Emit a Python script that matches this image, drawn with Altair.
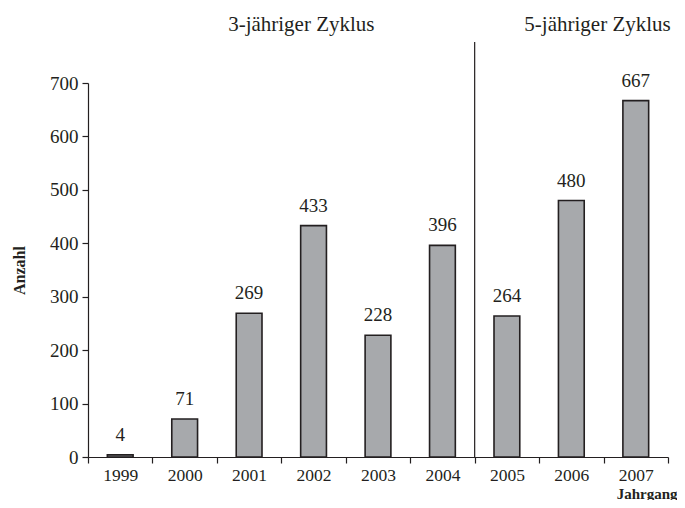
import altair as alt
import pandas as pd

years = ["1999", "2000", "2001", "2002", "2003", "2004", "2005", "2006", "2007"]
counts = [4, 71, 269, 433, 228, 396, 264, 480, 667]
cycle_labels = ["3-jähriger Zyklus", "5-jähriger Zyklus"]
cycle_anchor = ["2002", "2007"]
divider_year = "2005"

FONT = "Liberation Serif, Times New Roman, DejaVu Serif, serif"
INK = "#231f20"

df = pd.DataFrame({"Jahrgang": years, "Anzahl": counts})

xscale = alt.Scale(domain=years, paddingInner=0, paddingOuter=0)
yscale = alt.Scale(domain=[0, 700])

bars = alt.Chart(df).mark_bar(
    fill="#a7a9ac", stroke=INK, strokeWidth=1.6, width={"band": 0.4}
).encode(
    x=alt.X("Jahrgang:N", scale=xscale, sort=years,
            axis=alt.Axis(title="Jahrgang", labelAngle=0, tickBand="extent",
                          tickSize=6, labelPadding=3, labelFontSize=17.5,
                          titleFontWeight="bold", titleFontSize=15,
                          titleAnchor="end", titleAlign="right",
                          titleX=589, titleY=41, titleBaseline="alphabetic")),
    y=alt.Y("Anzahl:Q", scale=yscale,
            axis=alt.Axis(values=[0, 100, 200, 300, 400, 500, 600, 700],
                          grid=False, tickSize=6, labelPadding=4, labelFontSize=19,
                          title="Anzahl", titleFontWeight="bold", titleFontSize=16,
                          titlePadding=22)),
)

labels = alt.Chart(df).mark_text(
    baseline="bottom", dy=-10, fontSize=19, font=FONT, color=INK
).encode(
    x=alt.X("Jahrgang:N", scale=xscale, sort=years),
    y=alt.Y("Anzahl:Q", scale=yscale),
    text="Anzahl:Q",
)

divider = alt.Chart(pd.DataFrame({"d": [divider_year]})).mark_rule(
    color=INK, strokeWidth=1.2
).encode(
    x=alt.X("d:N", scale=xscale, bandPosition=0),
    y=alt.datum(0),
    y2=alt.value(-41),
)

cyc1 = alt.Chart(pd.DataFrame({"label": [cycle_labels[0]], "anchor": [cycle_anchor[0]]})).mark_text(
    fontSize=21, font=FONT, color=INK, baseline="middle", dx=20
).encode(
    x=alt.X("anchor:N", scale=xscale, bandPosition=0),
    y=alt.value(-58),
    text="label:N",
)
cyc2 = alt.Chart(pd.DataFrame({"label": [cycle_labels[1]], "anchor": [cycle_anchor[1]]})).mark_text(
    fontSize=21, font=FONT, color=INK, baseline="middle", dx=-6
).encode(
    x=alt.X("anchor:N", scale=xscale, bandPosition=0),
    y=alt.value(-58),
    text="label:N",
)

chart = alt.layer(bars, labels, divider, cyc1, cyc2).properties(
    width=580, height=374,
    padding={"left": 80, "top": 75, "right": 9, "bottom": 43},
    autosize=alt.AutoSizeParams(type="none"),
).configure_view(stroke=None).configure_axis(
    labelFont=FONT, titleFont=FONT, labelColor=INK, titleColor=INK,
    domainColor=INK, tickColor=INK, domainWidth=1.2, tickWidth=1.2,
)

chart.save("out.html", embed_options={"renderer": "svg", "actions": False})
